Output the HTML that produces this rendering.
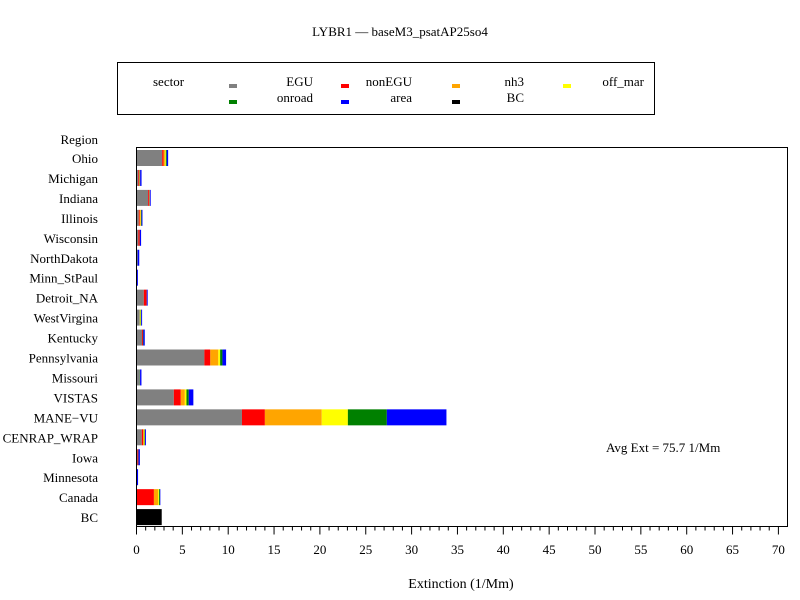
<!DOCTYPE html>
<html><head><meta charset="utf-8"><style>
body{margin:0;background:#fff;}
svg{display:block;font-family:"Liberation Serif",serif;}
</style></head><body>
<svg id="c" width="800" height="600">
<text x="400" y="36" font-size="13" text-anchor="middle">LYBR1 — baseM3_psatAP25so4</text>
<g>
<rect x="117.5" y="62.5" width="537" height="52" fill="none" stroke="#000"/>
<text x="153" y="86" font-size="13">sector</text>
</g>
<text x="606" y="452" font-size="13">Avg Ext =  75.7 1/Mm</text>
<text x="461" y="588" font-size="14" text-anchor="middle">Extinction (1/Mm)</text>
<text x="98" y="144" font-size="13" text-anchor="end">Region</text>
</svg>
<script>
const regions=["Ohio","Michigan","Indiana","Illinois","Wisconsin","NorthDakota","Minn_StPaul","Detroit_NA","WestVirgina","Kentucky","Pennsylvania","Missouri","VISTAS","MANE\u2212VU","CENRAP_WRAP","Iowa","Minnesota","Canada","BC"];
const sectors=["EGU","nonEGU","nh3","off_mar","onroad","area","BC"];
const colors=["#808080","#ff0000","#ffa500","#ffff00","#008000","#0000ff","#000000"];
const EGU=[2.8,0.2,1.27,0.25,0.2,0.1,0,0.8,0.36,0.6,7.4,0.36,4.07,11.5,0.58,0.1,0,0,0];
const nonEGU=[0.15,0.1,0.1,0.1,0.15,0,0,0.3,0,0.1,0.65,0,0.76,2.5,0.15,0.1,0,1.9,0];
const nh3=[0.15,0.05,0.05,0.1,0,0,0,0,0,0,0.87,0,0.44,6.2,0.1,0,0,0.45,0];
const off_mar=[0.1,0,0,0.05,0,0,0,0,0.1,0,0.2,0,0.18,2.85,0.05,0,0,0.1,0];
const onroad=[0.1,0.05,0.03,0.05,0.02,0.02,0,0.02,0.05,0.05,0.25,0.03,0.25,4.25,0.05,0.02,0.02,0.1,0];
const area=[0.15,0.15,0.1,0.1,0.13,0.18,0.15,0.1,0.1,0.15,0.4,0.15,0.5,6.5,0.1,0.15,0.15,0.05,0];
const BCv=[0,0,0,0,0,0,0,0,0,0,0,0,0,0,0,0,0,0,2.75];
const series=[EGU,nonEGU,nh3,off_mar,onroad,area,BCv];
const xTicks=[0,5,10,15,20,25,30,35,40,45,50,55,60,65,70];
const NS="http://www.w3.org/2000/svg";
const svg=document.getElementById('c');
const X0=136.5,PX=9.17,Y0=158,DY=19.95,BH=16,TOP=147.5,BOT=526.5,RIGHT=787.5;
const x=v=>X0+v*PX;
const y=i=>Y0+i*DY;
function mk(t,a,p){const e=document.createElementNS(NS,t);for(const k in a)e.setAttribute(k,a[k]);(p||svg).appendChild(e);return e;}
// bars
regions.forEach((r,i)=>{
 let acc=0;
 series.forEach((s,k)=>{
  const v=s[i]; if(v<=0) return;
  const b=mk('rect',{x:x(acc),y:y(i)-BH/2,width:v*PX,height:BH,fill:colors[k]});
  
  
  acc+=v;
 });
 const t=mk('text',{x:98,y:y(i)+5,'font-size':13,'text-anchor':'end'});
 t.textContent=r;
 
 
});
// frame
const fr=mk('rect',{x:X0,y:TOP,width:RIGHT-X0,height:BOT-TOP,fill:'none',stroke:'#000','stroke-width':1});


// ticks
for(let v=0;v<=70;v++){
 const major=v%5===0;
 const tk=mk('line',{x1:x(v),x2:x(v),y1:BOT,y2:BOT+(major?8:4),stroke:'#000'});
 
 
}
xTicks.forEach(v=>{
 const t=mk('text',{x:x(v),y:554,'font-size':13,'text-anchor':'middle'});
 t.textContent=v;
 
 
});
// legend
const lx=[229,341,452,563],lt=[313,412,524,644];
sectors.forEach((s,k)=>{
 const row=k<4?0:1,col=k<4?k:k-4;
 const yy=row?100:84;
 const m=mk('rect',{x:lx[col],y:yy,width:8,height:4,fill:colors[k]});
 
 
 const t=mk('text',{x:lt[col],y:yy+2,'font-size':13,'text-anchor':'end'});
 t.textContent=s;
 
 
});
</script>
</body></html>
